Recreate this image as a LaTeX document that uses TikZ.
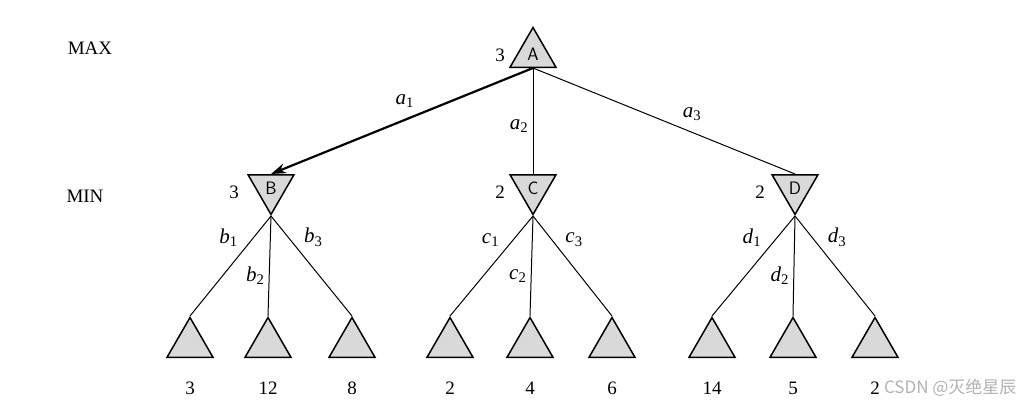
\documentclass[tikz,border=0pt]{standalone}
\usepackage{fontspec}
\setmainfont{Liberation Serif}
\newfontfamily\cjk{Noto Sans CJK SC}
\usetikzlibrary{shapes.geometric,arrows.meta,calc}
\newcommand{\lab}[2]{\textit{#1}\textsubscript{#2}}
\begin{document}
\begin{tikzpicture}[x=1pt,y=-1pt,
  tri/.style={regular polygon,regular polygon sides=3,minimum size=53pt,inner sep=0pt,draw,line width=1.5pt,fill=gray!30,font=\fontsize{18}{20}\selectfont\sffamily},
  maxn/.style={tri},
  minn/.style={tri,shape border rotate=180},
  lbl/.style={font=\fontsize{19}{21}\selectfont},
  edge/.style={line width=1pt},
  el/.style={font=\fontsize{21}{23}\selectfont}]
\useasboundingbox (0,0) rectangle (1034,408);
\node[maxn] (A) at (533,54) {A};
\node[minn] (B) at (271,188) {B};
\node[minn] (C) at (533,188) {C};
\node[minn] (D) at (795,188) {D};
\foreach \n/\x in {b1/190,b2/268,b3/352,c1/450,c2/530,c3/612,d1/712,d2/793,d3/875}
  \node[tri] (\n) at (\x,344) {};
\node[lbl] (max) at (90,48) {MAX};
\node[lbl] (min) at (85,196) {MIN};
\node[lbl] (vA) at (500,55) {3};
\node[lbl] (vB) at (234,192) {3};
\node[lbl] (vC) at (500,192) {2};
\node[lbl] (vD) at (760,192) {2};
\foreach \n/\v in {b1/3,b2/12,b3/8,c1/2,c2/4,c3/6,d1/14,d2/5,d3/2}
  \node[lbl] (v\n) at ($(\n)+(0,44)$) {\v};
\draw[line width=2.2pt,-{Stealth[length=15pt,width=10pt]}] (A.south) -- (B.north) node[el,pos=0.43,above left=2pt] {\lab{a}{1}};
\draw[edge] (A.south) -- (C.north) node[el,pos=0.55,left=1pt] {\lab{a}{2}};
\draw[edge] (A.south) -- (D.north) node[el,pos=0.55,above right=2pt] {\lab{a}{3}};
\foreach \p/\q in {B/b,C/c,D/d}{
  \draw[edge] (\p.south) -- (\q1.north) node[el,pos=0.35,above left=1pt] {\lab{\q}{1}};
  \draw[edge] (\p.south) -- (\q2.north) node[el,pos=0.6,left=1pt] {\lab{\q}{2}};
  \draw[edge] (\p.south) -- (\q3.north) node[el,pos=0.35,above right=1pt] {\lab{\q}{3}};
}
\node[text=gray!60,font=\fontsize{17}{20}\selectfont\cjk,anchor=east] (wm) at (1020,388) {CSDN @灭绝星辰};
\end{tikzpicture}
\end{document}
